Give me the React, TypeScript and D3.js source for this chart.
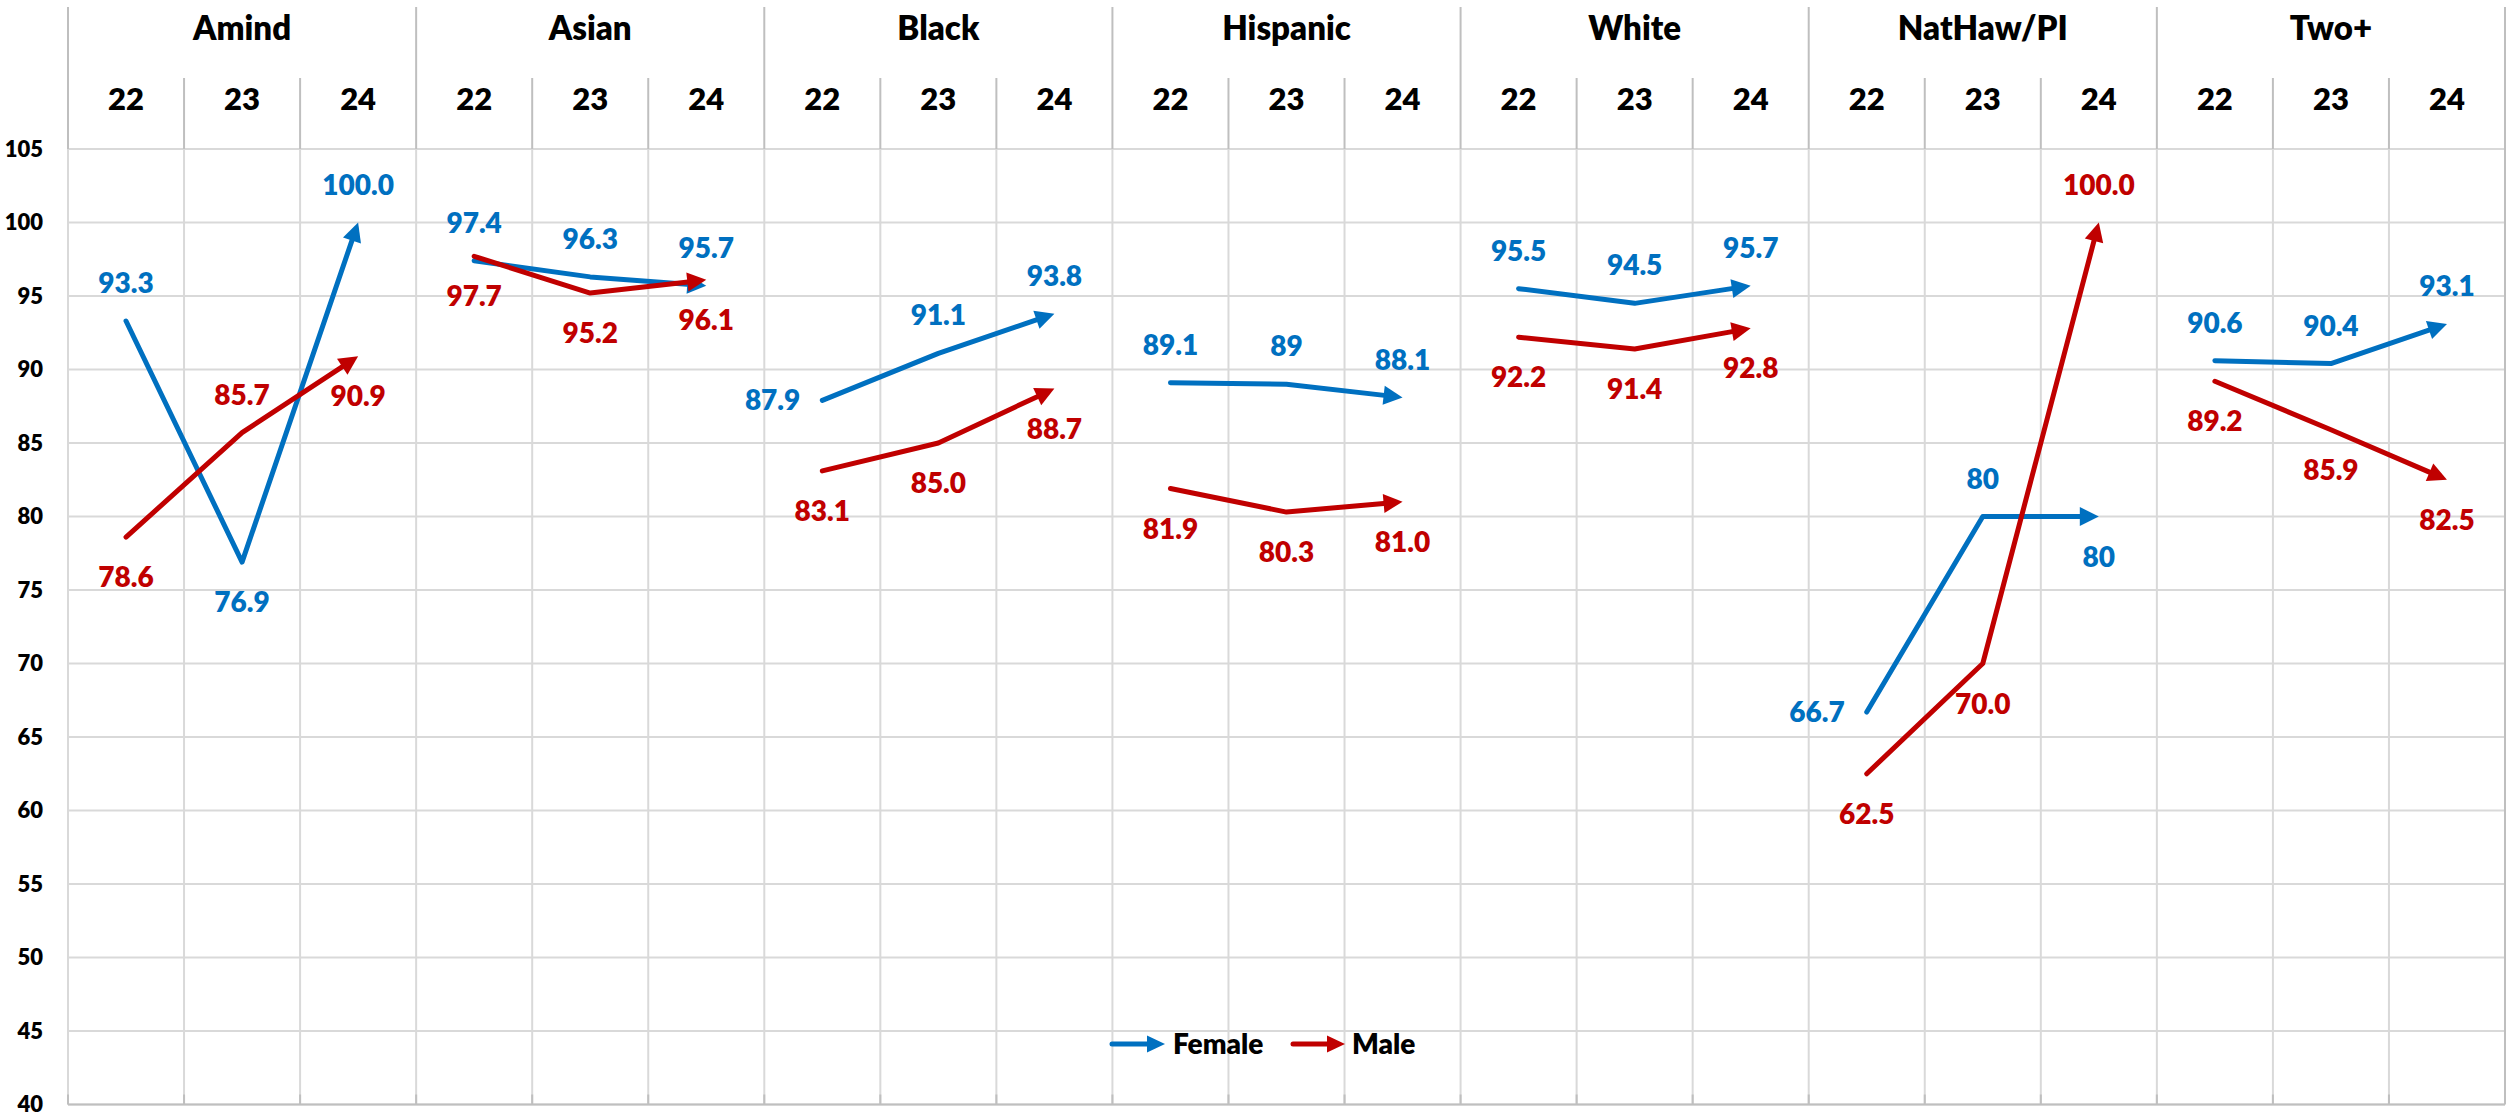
import React from "react";
import * as d3 from "d3";

const groups = ["Amind", "Asian", "Black", "Hispanic", "White", "NatHaw/PI", "Two+"];
const years = ["22", "23", "24"];
const femaleValues = [
  [93.3, 76.9, 100.0],
  [97.4, 96.3, 95.7],
  [87.9, 91.1, 93.8],
  [89.1, 89, 88.1],
  [95.5, 94.5, 95.7],
  [66.7, 80, 80],
  [90.6, 90.4, 93.1],
];
const maleValues = [
  [78.6, 85.7, 90.9],
  [97.7, 95.2, 96.1],
  [83.1, 85.0, 88.7],
  [81.9, 80.3, 81.0],
  [92.2, 91.4, 92.8],
  [62.5, 70.0, 100.0],
  [89.2, 85.9, 82.5],
];
const femaleLabels = [
  ["93.3", "76.9", "100.0"],
  ["97.4", "96.3", "95.7"],
  ["87.9", "91.1", "93.8"],
  ["89.1", "89", "88.1"],
  ["95.5", "94.5", "95.7"],
  ["66.7", "80", "80"],
  ["90.6", "90.4", "93.1"],
];
const maleLabels = [
  ["78.6", "85.7", "90.9"],
  ["97.7", "95.2", "96.1"],
  ["83.1", "85.0", "88.7"],
  ["81.9", "80.3", "81.0"],
  ["92.2", "91.4", "92.8"],
  ["62.5", "70.0", "100.0"],
  ["89.2", "85.9", "82.5"],
];
const femalePos = [
  ["above", "below", "above"],
  ["above", "above", "above"],
  ["left", "above", "above"],
  ["above", "above", "above"],
  ["above", "above", "above"],
  ["left", "above", "below"],
  ["above", "above", "above"],
];
const malePos = [
  ["below", "above", "below"],
  ["below", "below", "below"],
  ["below", "below", "below"],
  ["below", "below", "below"],
  ["below", "below", "below"],
  ["below", "below", "above"],
  ["below", "below", "below"],
];
const yTicks = [40, 45, 50, 55, 60, 65, 70, 75, 80, 85, 90, 95, 100, 105];
const seriesNames = ["Female", "Male"];

const W = 2506;
const H = 1117;
const FONT = "Lato, 'Open Sans', sans-serif";
const WEIGHT = 800;
const BLUE = "#0070C0";
const RED = "#C00000";
const GRID = "#D9D9D9";

export default function App() {
  const left = 68;
  const right = 2505;
  const top = 149;
  const bottom = 1104.5;
  const cats = groups.flatMap((g) => years.map((y) => g + "|" + y));
  const x = d3.scaleBand<string>().domain(cats).range([left, right]).padding(0);
  const gx = d3.scaleBand<string>().domain(groups).range([left, right]).padding(0);
  const y = d3.scaleLinear().domain([40, 105]).range([bottom, top]);
  const line = d3.line<[number, number]>().x((d) => d[0]).y((d) => d[1]);

  const cx = (g: string, yr: string) => (x(g + "|" + yr) as number) + x.bandwidth() / 2;

  const renderSeries = (
    vals: number[][],
    labels: string[][],
    pos: string[][],
    color: string,
    key: string
  ) =>
    groups.map((g, gi) => {
      const pts: [number, number][] = years.map((yr, yi) => [cx(g, yr), y(vals[gi][yi])]);
      const n = pts.length;
      const [x1, y1] = pts[n - 2];
      const [x2, y2] = pts[n - 1];
      const dx = x2 - x1;
      const dy = y2 - y1;
      const len = Math.sqrt(dx * dx + dy * dy);
      const ux = dx / len;
      const uy = dy / len;
      const headL = 19;
      const headW = 9.5;
      const bx = x2 - ux * headL;
      const by = y2 - uy * headL;
      const shortened = pts.slice(0, n - 1).concat([[x2 - ux * (headL - 3), y2 - uy * (headL - 3)]]);
      const head = [
        [x2, y2],
        [bx - uy * headW, by + ux * headW],
        [bx + uy * headW, by - ux * headW],
      ]
        .map((p) => p.join(","))
        .join(" ");
      return (
        <g key={key + g}>
          <path
            d={line(shortened) || ""}
            fill="none"
            stroke={color}
            strokeWidth={5}
            strokeLinecap="round"
            strokeLinejoin="round"
          />
          <polygon points={head} fill={color} />
          {years.map((yr, yi) => {
            const [px, py] = pts[yi];
            const p = pos[gi][yi];
            let tx = px;
            let ty = py;
            let anchor = "middle";
            if (p === "above") ty = py - 38;
            else if (p === "below") ty = py + 40;
            else {
              tx = px - 22;
              anchor = "end";
            }
            return (
              <text
                key={yr}
                x={tx}
                y={ty}
                dy="0.36em"
                textAnchor={anchor}
                fill={color}
                fontFamily={FONT}
                fontWeight={WEIGHT}
                fontSize={28}
              >
                {labels[gi][yi]}
              </text>
            );
          })}
        </g>
      );
    });

  const legendY = 1044;
  const legendItems = [
    { name: seriesNames[0], color: BLUE, x0: 1112, x1: 1165, tx: 1173 },
    { name: seriesNames[1], color: RED, x0: 1293, x1: 1345, tx: 1352 },
  ];

  return (
    <svg
      width={W}
      height={H}
      style={{ position: "absolute", left: 0, top: 0, background: "#fff" }}
    >
      <rect x={0} y={0} width={W} height={H} fill="#fff" />
      {yTicks.map((t) => (
        <line key={"h" + t} x1={left} x2={right} y1={y(t)} y2={y(t)} stroke={GRID} strokeWidth={2} />
      ))}
      {cats.map((c, i) => {
        const xx = x(c) as number;
        const isGroup = i % 3 === 0;
        return (
          <g key={"v" + c}>
            <line x1={xx} x2={xx} y1={top} y2={bottom} stroke={GRID} strokeWidth={2} />
            <line
              x1={xx}
              x2={xx}
              y1={isGroup ? 7 : 78}
              y2={top}
              stroke="#BFBFBF"
              strokeWidth={2}
            />
          </g>
        );
      })}
      <line x1={right} x2={right} y1={7} y2={bottom} stroke="#BFBFBF" strokeWidth={2} />
      <line x1={left} x2={right} y1={bottom} y2={bottom} stroke="#BFBFBF" strokeWidth={2} />
      {cats.map((c) => {
        const xx = x(c) as number;
        return <line key={"t" + c} x1={xx} x2={xx} y1={bottom - 10} y2={bottom} stroke="#BFBFBF" strokeWidth={2} />;
      })}
      {groups.map((g) => (
        <text
          key={"g" + g}
          x={(gx(g) as number) + gx.bandwidth() / 2}
          y={40}
          textAnchor="middle"
          fontFamily={FONT}
          fontWeight={WEIGHT}
          fontSize={33}
          fill="#000"
        >
          {g}
        </text>
      ))}
      {groups.flatMap((g) =>
        years.map((yr) => (
          <text
            key={"y" + g + yr}
            x={cx(g, yr)}
            y={110}
            textAnchor="middle"
            fontFamily={FONT}
            fontWeight={WEIGHT}
            fontSize={31}
            fill="#000"
          >
            {yr}
          </text>
        ))
      )}
      {yTicks.map((t) => (
        <text
          key={"yt" + t}
          x={43}
          y={y(t)}
          dy="0.36em"
          textAnchor="end"
          fontFamily={FONT}
          fontWeight={WEIGHT}
          fontSize={22}
          fill="#000"
        >
          {t}
        </text>
      ))}
      {renderSeries(femaleValues, femaleLabels, femalePos, BLUE, "f")}
      {renderSeries(maleValues, maleLabels, malePos, RED, "m")}
      {legendItems.map((it) => (
        <g key={"l" + it.name}>
          <line
            x1={it.x0}
            x2={it.x1 - 16}
            y1={legendY}
            y2={legendY}
            stroke={it.color}
            strokeWidth={5}
            strokeLinecap="round"
          />
          <polygon
            points={`${it.x1},${legendY} ${it.x1 - 18},${legendY - 8.5} ${it.x1 - 18},${legendY + 8.5}`}
            fill={it.color}
          />
          <text
            x={it.tx}
            y={legendY}
            dy="0.36em"
            fontFamily={FONT}
            fontWeight={WEIGHT}
            fontSize={28}
            fill="#000"
          >
            {it.name}
          </text>
        </g>
      ))}
    </svg>
  );
}
